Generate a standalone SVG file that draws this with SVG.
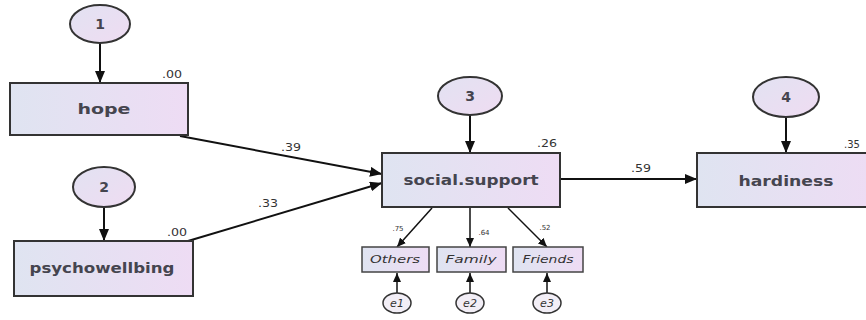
<svg xmlns="http://www.w3.org/2000/svg" width="866" height="320" viewBox="0 0 866 320">
<defs>
<linearGradient id="gb" x1="0" y1="0" x2="1" y2="0">
<stop offset="0" stop-color="#dfe4f1"/>
<stop offset="1" stop-color="#eedcf4"/>
</linearGradient>
<linearGradient id="gc" x1="0" y1="0" x2="1" y2="1">
<stop offset="0" stop-color="#e2e2f2"/>
<stop offset="1" stop-color="#efdcf2"/>
</linearGradient>
<marker id="ah" markerWidth="12" markerHeight="10" refX="12" refY="5" orient="auto" markerUnits="userSpaceOnUse">
<path d="M0,0 L12,5 L0,10 z" fill="#111"/>
</marker>
<marker id="as" markerWidth="9" markerHeight="8" refX="9" refY="4" orient="auto" markerUnits="userSpaceOnUse">
<path d="M0,0 L9,4 L0,8 z" fill="#111"/>
</marker>
</defs>
<style>
.box{fill:url(#gb);stroke:#333;stroke-width:2}
.sbox{fill:url(#gb);stroke:#444;stroke-width:1.5}
.cir{fill:url(#gc);stroke:#333;stroke-width:2}
.ecir{fill:#f2eef6;stroke:#333;stroke-width:1.5}
.ln{stroke:#111;stroke-width:2;fill:none;marker-end:url(#ah)}
.lns{stroke:#111;stroke-width:1.5;fill:none;marker-end:url(#as)}
.lbl{font-family:"DejaVu Sans",Verdana,sans-serif;font-size:14px;fill:#45454f;text-anchor:middle;font-weight:bold}
.num{font-family:"DejaVu Sans",Verdana,sans-serif;font-size:10px;fill:#333;text-anchor:middle}
.snum{font-family:"DejaVu Sans",Verdana,sans-serif;font-size:7px;fill:#333;text-anchor:middle}
.ind{font-family:"DejaVu Sans",Verdana,sans-serif;font-size:11px;fill:#333;text-anchor:middle;font-style:italic}
</style>
<rect width="866" height="320" fill="#fff"/>
<g id="connectors">
<line class="ln" x1="100" y1="43" x2="100" y2="83"/>
<line class="ln" x1="104" y1="207" x2="104" y2="241"/>
<line class="ln" x1="470" y1="115" x2="470" y2="153"/>
<line class="ln" x1="786" y1="117" x2="786" y2="153"/>
<line class="ln" x1="180" y1="136" x2="382" y2="174"/>
<line class="ln" x1="188" y1="241" x2="382" y2="183"/>
<line class="ln" x1="560" y1="179" x2="697" y2="179"/>
<line class="lns" x1="432" y1="208" x2="397" y2="247"/>
<line class="lns" x1="470" y1="208" x2="470" y2="247"/>
<line class="lns" x1="508" y1="208" x2="547" y2="247"/>
<line class="lns" x1="397" y1="293" x2="397" y2="273"/>
<line class="lns" x1="470" y1="293" x2="470" y2="273"/>
<line class="lns" x1="547" y1="293" x2="547" y2="273"/>
<text class="num" x="291" y="151" textLength="20" lengthAdjust="spacingAndGlyphs">.39</text>
<text class="num" x="268" y="207" textLength="20" lengthAdjust="spacingAndGlyphs">.33</text>
<text class="num" x="641" y="172" textLength="20" lengthAdjust="spacingAndGlyphs">.59</text>
<text class="snum" x="398" y="231">.75</text>
<text class="snum" x="484" y="235">.64</text>
<text class="snum" x="545" y="230">.52</text>
</g>
<g id="e1c"><ellipse class="cir" cx="100" cy="24" rx="30" ry="19"/><text class="lbl" x="100" y="29" font-size="12">1</text></g>
<g id="e2c"><ellipse class="cir" cx="104" cy="187" rx="31" ry="20"/><text class="lbl" x="104" y="192" font-size="12">2</text></g>
<g id="e3c"><ellipse class="cir" cx="470" cy="96" rx="32" ry="19"/><text class="lbl" x="470" y="101" font-size="12">3</text></g>
<g id="e4c"><ellipse class="cir" cx="786" cy="97" rx="33" ry="20"/><text class="lbl" x="786" y="102" font-size="12">4</text></g>
<g id="hope"><rect class="box" x="10" y="83" width="178" height="52"/><text class="lbl" x="104" y="114" textLength="53" lengthAdjust="spacingAndGlyphs">hope</text><text class="num" x="172" y="78" textLength="20" lengthAdjust="spacingAndGlyphs">.00</text></g>
<g id="psychowellbing"><rect class="box" x="14" y="241" width="179" height="55"/><text class="lbl" x="102" y="273" textLength="145" lengthAdjust="spacingAndGlyphs">psychowellbing</text><text class="num" x="177" y="236" textLength="20" lengthAdjust="spacingAndGlyphs">.00</text></g>
<g id="social"><rect class="box" x="382" y="153" width="178" height="54"/><text class="lbl" x="471" y="185" textLength="135" lengthAdjust="spacingAndGlyphs">social.support</text><text class="num" x="547" y="147" textLength="20" lengthAdjust="spacingAndGlyphs">.26</text></g>
<g id="hardiness"><rect class="box" x="697" y="153" width="180" height="54"/><text class="lbl" x="786" y="186" textLength="95" lengthAdjust="spacingAndGlyphs">hardiness</text><text class="num" x="852" y="148" text-anchor="start">.35</text></g>
<g id="others"><rect class="sbox" x="362" y="247" width="67" height="25"/><text class="ind" x="395" y="263" textLength="50" lengthAdjust="spacingAndGlyphs">Others</text></g>
<g id="family"><rect class="sbox" x="437" y="247" width="69" height="25"/><text class="ind" x="471" y="263" textLength="51" lengthAdjust="spacingAndGlyphs">Family</text></g>
<g id="friends"><rect class="sbox" x="513" y="247" width="70" height="25"/><text class="ind" x="548" y="263" textLength="51" lengthAdjust="spacingAndGlyphs">Friends</text></g>
<g id="e1"><ellipse class="ecir" cx="397" cy="303" rx="14" ry="10"/><text class="ind" x="397" y="307">e1</text></g>
<g id="e2"><ellipse class="ecir" cx="470" cy="303" rx="14" ry="10"/><text class="ind" x="470" y="307">e2</text></g>
<g id="e3"><ellipse class="ecir" cx="547" cy="303" rx="14" ry="10"/><text class="ind" x="547" y="307">e3</text></g>
</svg>
